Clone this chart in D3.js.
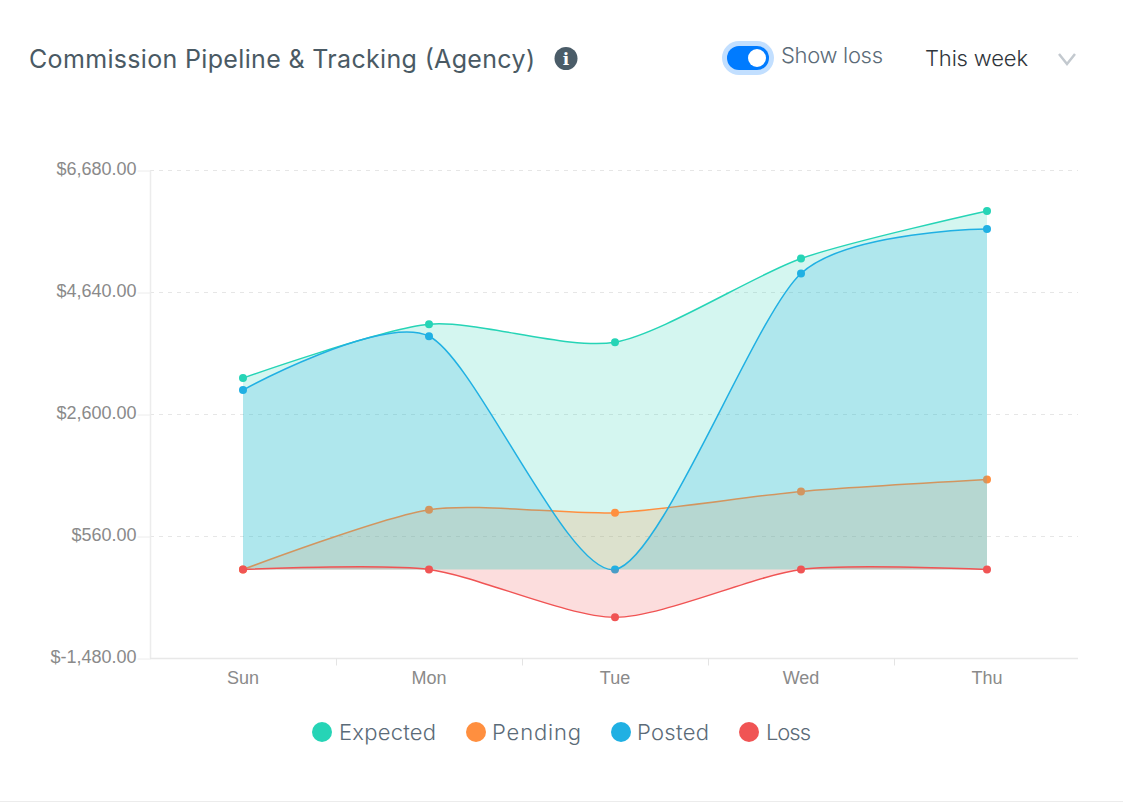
<!DOCTYPE html>
<html>
<head>
<meta charset="utf-8">
<script src="https://cdn.jsdelivr.net/npm/d3@7"></script>
<style>
  html, body { margin: 0; padding: 0; background: #fff; }
  svg { display: block; }
</style>
</head>
<body>
<svg class="vis" width="1123" height="802"></svg>
<script>
// chart values
var days = ["Sun", "Mon", "Tue", "Wed", "Thu"];
var yTicks = [-1480, 560, 2600, 4640, 6680];
var seriesNames = ["Expected", "Pending", "Posted", "Loss"];
var seriesColors = ["#26d4b6", "#ff8f3f", "#20b0e3", "#f05454"];
var expected = [3200, 4100, 3800, 5200, 5995];
var pending = [0, 1000, 950, 1305, 1505];
var posted = [3000, 3900, 0, 4950, 5695];
var loss = [0, 0, -800, 0, 0];

var svg = d3.select(".vis");

var x = d3.scaleBand().domain(days).range([150, 1080]);
var y = d3.scaleLinear().domain([-1480, 6680]).range([658, 170]);
var cx = d => x(d) + x.bandwidth() / 2;

var axisFont = "'Liberation Sans', Arial, sans-serif";
var uiFont = "Inter, 'Noto Sans', sans-serif";

// header
svg.append("text")
    .attr("x", 29)
    .attr("y", 68)
    .attr("font-family", uiFont)
    .attr("font-size", "25px")
    .attr("fill", "#4a5a64")
    .attr("textLength", 506)
    .attr("lengthAdjust", "spacing")
    .text("Commission Pipeline & Tracking (Agency)");

svg.append("circle").attr("cx", 566).attr("cy", 58.5).attr("r", 11.5).attr("fill", "#4a5c68");
svg.append("text")
    .attr("x", 566)
    .attr("y", 65)
    .attr("text-anchor", "middle")
    .attr("font-family", "'DejaVu Serif', serif")
    .attr("font-weight", "bold")
    .attr("font-size", "17px")
    .attr("fill", "#fff")
    .text("i");

// toggle
svg.append("rect").attr("x", 722).attr("y", 41).attr("width", 52).attr("height", 34).attr("rx", 17).attr("fill", "#c2dfff");
svg.append("rect").attr("x", 727).attr("y", 46).attr("width", 42).attr("height", 24).attr("rx", 12).attr("fill", "#007bff");
svg.append("circle").attr("cx", 757).attr("cy", 58).attr("r", 9).attr("fill", "#fff");
svg.append("text")
    .attr("x", 781)
    .attr("y", 63)
    .attr("font-family", uiFont)
    .attr("font-weight", 300)
    .attr("font-size", "22px")
    .attr("fill", "#5b6b78")
    .attr("textLength", 102)
    .text("Show loss");

svg.append("text")
    .attr("x", 925)
    .attr("y", 66)
    .attr("font-family", uiFont)
    .attr("font-weight", 300)
    .attr("font-size", "22px")
    .attr("fill", "#2f353b")
    .attr("textLength", 103)
    .text("This week");

svg.append("path")
    .attr("d", "M1059,54L1067,64L1075,54")
    .attr("fill", "none")
    .attr("stroke", "#c3c9cf")
    .attr("stroke-width", 2.5);

// grid lines
svg.append("g")
    .selectAll("line")
    .data(yTicks.slice(1))
    .join("line")
    .attr("x1", 150)
    .attr("x2", 1078)
    .attr("y1", d => y(d) + 0.5)
    .attr("y2", d => y(d) + 0.5)
    .attr("stroke", "#e6e6e6")
    .attr("stroke-width", 1.2)
    .attr("stroke-dasharray", "4,5");

// y axis
var yAxis = svg.append("g")
    .attr("transform", "translate(150.5,0.5)")
    .call(d3.axisLeft(y).tickValues(yTicks).tickSize(13).tickPadding(1)
        .tickFormat(d => (d < 0 ? "$-" : "$") + d3.format(",.2f")(Math.abs(d))));
yAxis.select(".domain").attr("stroke", "#ececec").attr("stroke-width", 1.5).attr("d", "M0,170V658");
yAxis.selectAll("line").attr("stroke", "#ececec");
yAxis.selectAll("text")
    .attr("y", -2)
    .attr("font-family", axisFont)
    .attr("font-size", "18px")
    .attr("fill", "#8a8a8a");

// x axis
var xAxis = svg.append("g")
    .attr("transform", "translate(0,658.5)")
    .call(d3.axisBottom(x).tickSize(0).tickPadding(13));
xAxis.select(".domain").attr("stroke", "#e8e8e8").attr("stroke-width", 1.5).attr("d", "M150,0H1078");
xAxis.selectAll("text")
    .attr("font-family", axisFont)
    .attr("font-size", "18px")
    .attr("fill", "#8a8a8a");
xAxis.selectAll(".band-tick")
    .data(days.slice(1))
    .join("line")
    .attr("class", "band-tick")
    .attr("x1", d => x(d) + 0.5)
    .attr("x2", d => x(d) + 0.5)
    .attr("y1", 0)
    .attr("y2", 7)
    .attr("stroke", "#e4e4e4");

// areas and lines, each series painted over the one before it
var curve = d3.curveCardinal.tension(0.25);
var allSeries = [expected, pending, posted, loss];
var area = d3.area()
    .x((d, i) => cx(days[i]))
    .y0(y(0))
    .y1(d => y(d))
    .curve(curve);
var line = d3.line()
    .x((d, i) => cx(days[i]))
    .y(d => y(d))
    .curve(curve);

allSeries.forEach(function (values, s) {
    svg.append("path")
        .attr("d", area(values))
        .attr("fill", seriesColors[s])
        .attr("fill-opacity", 0.2);
    svg.append("path")
        .attr("d", line(values))
        .attr("fill", "none")
        .attr("stroke", seriesColors[s])
        .attr("stroke-width", 1.5);
    svg.append("g")
        .selectAll("circle")
        .data(values)
        .join("circle")
        .attr("cx", (d, i) => cx(days[i]))
        .attr("cy", d => y(d))
        .attr("r", 4)
        .attr("fill", seriesColors[s]);
});

// legend
var legendSwatchX = [322, 476, 621, 749];
var legendTextX = [339, 492, 637, 766];
var legendWidth = [97, 89, 72, 45];
seriesNames.forEach(function (name, i) {
    svg.append("circle")
        .attr("cx", legendSwatchX[i])
        .attr("cy", 732)
        .attr("r", 10)
        .attr("fill", seriesColors[i]);
    svg.append("text")
        .attr("x", legendTextX[i])
        .attr("y", 740)
        .attr("font-family", uiFont)
        .attr("font-weight", 300)
        .attr("font-size", "22px")
        .attr("fill", "#5b6b78")
        .attr("textLength", legendWidth[i])
        .text(name);
});

// card edge at the bottom
svg.append("line")
    .attr("x1", 0)
    .attr("x2", 1123)
    .attr("y1", 801.5)
    .attr("y2", 801.5)
    .attr("stroke", "#ececec");
</script>
</body>
</html>
